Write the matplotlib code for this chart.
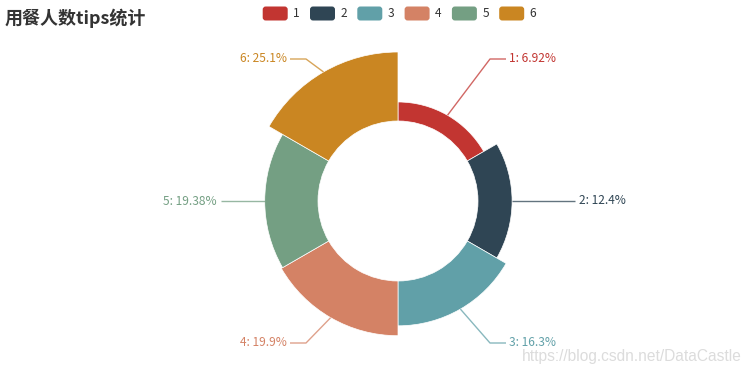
import numpy as np
import matplotlib
matplotlib.use('Agg')
import matplotlib.pyplot as plt
from matplotlib.patches import Wedge, FancyBboxPatch

plt.rcParams['font.family'] = ['Noto Sans CJK SC', 'DejaVu Sans']

# data
names = ['1', '2', '3', '4', '5', '6']
percents = [6.92, 12.4, 16.3, 19.9, 19.38, 25.1]
labels = ['1: 6.92%', '2: 12.4%', '3: 16.3%', '4: 19.9%', '5: 19.38%', '6: 25.1%']
colors = ['#c23531', '#2f4554', '#61a0a8', '#d48265', '#749f83', '#ca8622']
title = '用餐人数tips统计'

W, H = 756, 376
PT = 72 / 100.0  # px -> pt

fig = plt.figure(figsize=(W / 100, H / 100), dpi=100)
ax = fig.add_axes([0, 0, 1, 1])
ax.set_xlim(0, W)
ax.set_ylim(0, H)
ax.axis('off')

cx, cy = 398, H - 201
r_in, r_out = 80, 149
vmax = max(percents)
n = len(percents)
step = 360.0 / n

for i, (v, c) in enumerate(zip(percents, colors)):
    r = r_in + (r_out - r_in) * v / vmax
    t2 = 90 - step * i
    t1 = t2 - step
    ax.add_patch(Wedge((cx, cy), r, t1, t2, width=r - r_in, facecolor=c,
                       edgecolor='white', linewidth=0.5))

    # label line: out from the slice edge, then a short horizontal bit
    mid = np.deg2rad((t1 + t2) / 2)
    sx, sy = cx + r * np.cos(mid), cy + r * np.sin(mid)
    side = 1 if np.cos(mid) > 0.01 else -1
    if abs(np.sin(mid)) < 0.01:
        ex, ey = cx + side * 177, sy
        pts_x, pts_y = [sx, ex], [sy, ey]
        tx = ex + side * 4
    else:
        ey = cy + np.sign(np.sin(mid)) * 142
        ex = cx + side * 92
        hx = ex + side * 16
        pts_x, pts_y = [sx, ex, hx], [sy, ey, ey]
        tx = hx + side * 3
    ax.plot(pts_x, pts_y, color=c, lw=1, alpha=0.75, solid_capstyle='butt')
    ax.text(tx, ey, labels[i], color=c, fontsize=12 * PT,
            ha='left' if side > 0 else 'right', va='center')

# title
ax.text(5, H - 18, title, fontsize=18 * PT, fontweight='bold', color='#333333',
        ha='left', va='center')

# legend
lx = 262.7
for name, c in zip(names, colors):
    ax.add_patch(FancyBboxPatch((lx + 3, H - 20.5 + 3), 25 - 6, 14 - 6,
                                boxstyle='round,pad=3', facecolor=c, edgecolor='none'))
    ax.text(lx + 30.5, H - 13.7, name, fontsize=12 * PT, color='#333333',
            ha='left', va='center')
    lx += 47.3

# watermark
ax.text(522, H - 357, 'https://blog.csdn.net/DataCastle', fontsize=15.5 * PT,
        color='#dcdcdc', family='Liberation Sans', ha='left', va='center')

fig.savefig('out.png', dpi=100)
